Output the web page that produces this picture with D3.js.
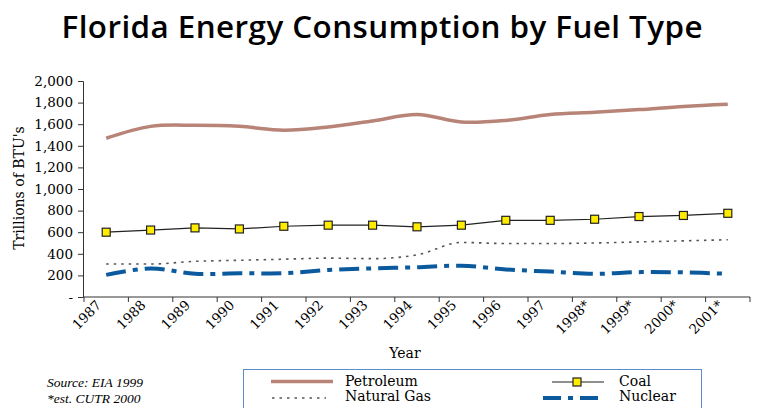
<!DOCTYPE html>
<html><head><meta charset="utf-8">
<script src="https://cdn.jsdelivr.net/npm/d3@7"></script>
<style>body{margin:0;background:#fff}</style>
</head><body>
<svg id="c" width="760" height="408"></svg>
<script>
const years = ["1987","1988","1989","1990","1991","1992","1993","1994","1995","1996","1997","1998*","1999*","2000*","2001*"];
const petroleum = [1470,1580,1590,1580,1545,1575,1630,1690,1620,1635,1690,1710,1735,1765,1785];
const coal = [600,620,640,630,655,665,665,650,665,710,710,720,745,755,775];
const naturalGas = [305,305,330,340,350,360,355,390,505,495,495,500,510,520,530];
const nuclear = [205,265,215,220,220,250,265,275,290,255,235,215,230,228,215];
const yTicks = [0,200,400,600,800,1000,1200,1400,1600,1800,2000];

const svg = d3.select("#c");
const serif = "DejaVu Serif";
const x = d3.scaleBand().domain(years).range([84, 750]);
const y = d3.scaleLinear().domain([0, 2000]).range([297, 81]);
const cx = d => x(d) + x.bandwidth() / 2;

svg.append("text").attr("x", 382).attr("y", 38).attr("text-anchor", "middle")
  .attr("font-family", "Open Sans").attr("font-weight", 600)
  .attr("font-size", 31.4).attr("textLength", 641).attr("lengthAdjust", "spacing")
  .attr("fill", "#000").text("Florida Energy Consumption by Fuel Type");

// y axis
const ya = svg.append("g").attr("transform", "translate(83,0)")
  .call(d3.axisLeft(y).tickValues(yTicks).tickSize(5).tickPadding(5)
    .tickFormat(v => v === 0 ? "-" : d3.format(",")(v)));
ya.attr("font-family", serif);
ya.selectAll("text").attr("font-family", serif).attr("font-size", 13.5).attr("fill", "#000");
ya.selectAll("line,path").attr("stroke", "#333");

// x axis
const xa = svg.append("g").attr("transform", "translate(0,297)")
  .call(d3.axisBottom(x).tickSize(0).tickFormat(""));
xa.select("path").attr("d", "M83,0H750").attr("stroke", "#333");
const bounds = years.map(d => x(d)).concat([750]);
xa.selectAll(".bt").data(bounds).enter().append("line").attr("class", "bt")
  .attr("x1", d => d).attr("x2", d => d).attr("y1", 0).attr("y2", 5).attr("stroke", "#333");
svg.append("g").selectAll("text").data(years).enter().append("text")
  .attr("transform", d => `translate(${cx(d) - 4},306) rotate(-45)`)
  .attr("text-anchor", "end").attr("font-family", serif).attr("font-size", 13.5).attr("fill", "#000")
  .text(d => d);

svg.append("text").attr("transform", "translate(24,188) rotate(-90)").attr("text-anchor", "middle")
  .attr("font-family", serif).attr("font-size", 14).text("Trillions of BTU's");
svg.append("text").attr("x", 405).attr("y", 358).attr("text-anchor", "middle")
  .attr("font-family", serif).attr("font-size", 14).text("Year");

const mk = (vals, curve) => d3.line().x((v, i) => cx(years[i])).y(v => y(v)).curve(curve)(vals);

svg.append("path").attr("d", mk(naturalGas, d3.curveMonotoneX)).attr("fill", "none")
  .attr("stroke", "#555").attr("stroke-width", 1.6).attr("stroke-dasharray", "2.5,5");
svg.append("path").attr("d", mk(nuclear, d3.curveCatmullRom)).attr("fill", "none")
  .attr("stroke", "#0b5a9e").attr("stroke-width", 4).attr("stroke-dasharray", "20,7,5,7");
svg.append("path").attr("d", mk(petroleum, d3.curveCatmullRom)).attr("fill", "none")
  .attr("stroke", "#b88478").attr("stroke-width", 3.5);
svg.append("path").attr("d", mk(coal, d3.curveLinear)).attr("fill", "none")
  .attr("stroke", "#222").attr("stroke-width", 1.2);
svg.append("g").selectAll("rect").data(coal).enter().append("rect")
  .attr("x", (v, i) => cx(years[i]) - 4).attr("y", v => y(v) - 4)
  .attr("width", 8).attr("height", 8).attr("fill", "#ffec00").attr("stroke", "#222").attr("stroke-width", 1.2);

// source notes
svg.append("text").attr("x", 47).attr("y", 387).attr("font-family", "Liberation Serif").attr("font-style", "italic")
  .attr("font-size", 13.5).text("Source: EIA 1999");
svg.append("text").attr("x", 47).attr("y", 403).attr("font-family", "Liberation Serif").attr("font-style", "italic")
  .attr("font-size", 13.5).text("*est. CUTR 2000");

// legend
const lg = svg.append("g");
lg.append("rect").attr("x", 243.5).attr("y", 369.5).attr("width", 458).attr("height", 50)
  .attr("fill", "#fff").attr("stroke", "#5b8ec8").attr("stroke-width", 1);
lg.append("line").attr("x1", 271).attr("x2", 333).attr("y1", 381.5).attr("y2", 381.5)
  .attr("stroke", "#b88478").attr("stroke-width", 3.5);
lg.append("line").attr("x1", 272).attr("x2", 326).attr("y1", 398).attr("y2", 398)
  .attr("stroke", "#555").attr("stroke-width", 1.6).attr("stroke-dasharray", "2.5,5");
lg.append("line").attr("x1", 552).attr("x2", 604).attr("y1", 382).attr("y2", 382)
  .attr("stroke", "#222").attr("stroke-width", 1.2);
lg.append("rect").attr("x", 573).attr("y", 378).attr("width", 8).attr("height", 8)
  .attr("fill", "#ffec00").attr("stroke", "#222").attr("stroke-width", 1.2);
lg.append("line").attr("x1", 543).attr("x2", 605).attr("y1", 398).attr("y2", 398)
  .attr("stroke", "#0b5a9e").attr("stroke-width", 4).attr("stroke-dasharray", "18,7,5,7");
const lt = [["Petroleum", 345, 386], ["Natural Gas", 345, 401], ["Coal", 619, 386], ["Nuclear", 619, 401]];
lg.selectAll(".lt").data(lt).enter().append("text").attr("class", "lt")
  .attr("x", d => d[1]).attr("y", d => d[2]).attr("font-family", serif).attr("font-size", 14).text(d => d[0]);
</script>
</body></html>
